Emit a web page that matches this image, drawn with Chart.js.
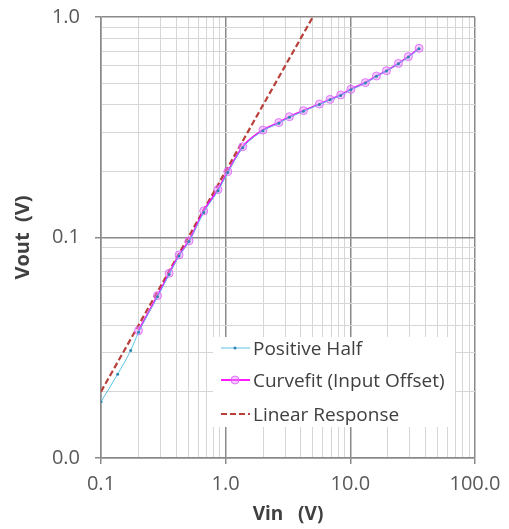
<!DOCTYPE html>
<html>
<head>
<meta charset="utf-8">
<script src="https://cdn.jsdelivr.net/npm/chart.js@4/dist/chart.umd.min.js"></script>
<style>
  body { margin: 0; background: #fff; }
  #wrap { position: relative; width: 509px; height: 529px; }
  #legend {
    position: absolute; left: 213px; top: 337px; width: 242px; height: 90px;
    background: #fff; font-family: "Open Sans", sans-serif; font-size: 19px; color: #404040;
  }
  .row { position: absolute; left: 7px; height: 20px; display: flex; align-items: center; white-space: nowrap; }
  .row canvas { margin-right: 2px; }
</style>
</head>
<body>
<div id="wrap">
  <canvas id="chart" width="509" height="529"></canvas>
  <div id="legend"></div>
</div>
<script>
const xTicks = [0.1, 0.2, 0.3, 0.4, 0.5, 0.6, 0.7, 0.8, 0.9, 1, 2, 3, 4, 5, 6, 7, 8, 9, 10, 20, 30, 40, 50, 60, 70, 80, 90, 100];
const yTicks = [0.01, 0.02, 0.03, 0.04, 0.05, 0.06, 0.07, 0.08, 0.09, 0.1, 0.2, 0.3, 0.4, 0.5, 0.6, 0.7, 0.8, 0.9, 1];
const majorTicks = [0.01, 0.1, 1, 10, 100];

const seriesNames = ["Positive Half", "Curvefit (Input Offset)", "Linear Response"];

const posX = [0.1, 0.136, 0.173, 0.2, 0.284, 0.352, 0.423, 0.508, 0.667, 0.868, 1.04, 1.37, 1.99, 2.67, 3.25, 4.21, 5.65, 6.88, 8.37, 10.1, 13.2, 16.2, 19.5, 24.3, 29.2, 35.6];
const posY = [0.018, 0.024, 0.0307, 0.0372, 0.0538, 0.068, 0.0825, 0.096, 0.13, 0.163, 0.197, 0.255, 0.305, 0.33, 0.351, 0.374, 0.401, 0.421, 0.441, 0.468, 0.502, 0.538, 0.569, 0.614, 0.658, 0.718];

const fitX = [0.2, 0.284, 0.352, 0.423, 0.508, 0.667, 0.868, 1.04, 1.37, 1.99, 2.67, 3.25, 4.21, 5.65, 6.88, 8.37, 10.1, 13.2, 16.2, 19.5, 24.3, 29.2, 35.6];
const fitY = [0.0378, 0.0545, 0.0688, 0.0833, 0.0966, 0.132, 0.165, 0.199, 0.258, 0.307, 0.332, 0.353, 0.376, 0.403, 0.423, 0.443, 0.47, 0.504, 0.54, 0.571, 0.616, 0.661, 0.721];

const linX = [0.1, 5];
const linY = [0.02, 1.0];

const toPoints = (xs, ys) => xs.map((x, i) => ({ x, y: ys[i] }));
const isMajor = (v) => majorTicks.some((m) => Math.abs(v - m) < m * 1e-6);

const gridOpts = {
  color: (c) => (isMajor(c.tick.value) ? "#8a8a8a" : "#d6d6d6"),
  lineWidth: (c) => (isMajor(c.tick.value) ? 1.5 : 1),
  tickColor: (c) => (isMajor(c.tick.value) ? "#8a8a8a" : "rgba(0,0,0,0)"),
  tickLength: 6,
};

const datasets = [
  {
    label: seriesNames[0],
    data: toPoints(posX, posY),
    borderColor: "#5cc3e6",
    borderWidth: 1,
    pointRadius: 1.5,
    pointBackgroundColor: "#2f86b0",
    pointBorderWidth: 0,
    cubicInterpolationMode: "monotone",
  },
  {
    label: seriesNames[1],
    data: toPoints(fitX, fitY),
    borderColor: "#ff00ff",
    borderWidth: 1.8,
    pointRadius: 4,
    pointBackgroundColor: "rgba(230,140,255,0.45)",
    pointBorderColor: "rgba(220,90,255,0.8)",
    pointBorderWidth: 1,
    cubicInterpolationMode: "monotone",
  },
  {
    label: seriesNames[2],
    data: toPoints(linX, linY),
    borderColor: "#b9403a",
    borderWidth: 2.2,
    borderDash: [6, 3],
    pointRadius: 0,
  },
];

const chart = new Chart(document.getElementById("chart"), {
  type: "line",
  data: { datasets },
  options: {
    responsive: false,
    animation: false,
    layout: { padding: { left: 0, right: 34, top: 17, bottom: 0 } },
    plugins: { legend: { display: false }, tooltip: { enabled: false } },
    scales: {
      x: {
        type: "logarithmic",
        min: 0.1,
        max: 100,
        afterBuildTicks: (axis) => {
          axis.ticks = xTicks.map((v) => ({ value: v }));
        },
        // fixed box so the plot sits where the original one does
        afterFit: (axis) => {
          axis.height = 71;
          axis.paddingLeft = 0;
          axis.paddingRight = 0;
        },
        ticks: {
          autoSkip: false,
          maxRotation: 0,
          color: "#595959",
          font: { family: "Open Sans", size: 20 },
          padding: 8,
          callback: (v) => (isMajor(v) ? v.toFixed(1) : ""),
        },
        grid: gridOpts,
        border: { color: "#8a8a8a", width: 1.5 },
        title: {
          display: true,
          text: "Vin   (V)",
          color: "#404040",
          font: { family: "Open Sans", size: 19, weight: "bold" },
          padding: { top: 0, bottom: 3 },
        },
      },
      y: {
        type: "logarithmic",
        min: 0.01,
        max: 1,
        afterBuildTicks: (axis) => {
          axis.ticks = yTicks.map((v) => ({ value: v }));
        },
        afterFit: (axis) => {
          axis.width = 101;
          axis.paddingTop = 0;
          axis.paddingBottom = 0;
        },
        ticks: {
          autoSkip: false,
          color: "#595959",
          font: { family: "Open Sans", size: 20 },
          padding: 15,
          callback: (v) => (isMajor(v) ? v.toFixed(1) : ""),
        },
        grid: gridOpts,
        border: { color: "#8a8a8a", width: 1.5 },
        title: {
          display: true,
          text: "Vout  (V)",
          color: "#404040",
          font: { family: "Open Sans", size: 20, weight: "bold" },
          padding: { top: 11, bottom: 0 },
        },
      },
    },
  },
});

// legend box drawn over the plot, like the original
const legend = document.getElementById("legend");
const rowTops = [1, 33, 67];
datasets.forEach((ds, i) => {
  const row = document.createElement("div");
  row.className = "row";
  row.style.top = rowTops[i] + "px";
  const sample = document.createElement("canvas");
  sample.width = 31;
  sample.height = 20;
  const g = sample.getContext("2d");
  g.strokeStyle = ds.borderColor;
  g.lineWidth = ds.borderWidth;
  g.setLineDash(ds.borderDash || []);
  g.beginPath();
  g.moveTo(1, 10);
  g.lineTo(30, 10);
  g.stroke();
  if (ds.pointRadius) {
    g.setLineDash([]);
    g.beginPath();
    g.arc(15, 10, ds.pointRadius, 0, Math.PI * 2);
    g.fillStyle = ds.pointBackgroundColor;
    g.fill();
    if (ds.pointBorderWidth) {
      g.strokeStyle = ds.pointBorderColor;
      g.lineWidth = ds.pointBorderWidth;
      g.stroke();
    }
  }
  row.appendChild(sample);
  const label = document.createElement("span");
  label.textContent = ds.label;
  row.appendChild(label);
  legend.appendChild(row);
});
</script>
</body>
</html>
